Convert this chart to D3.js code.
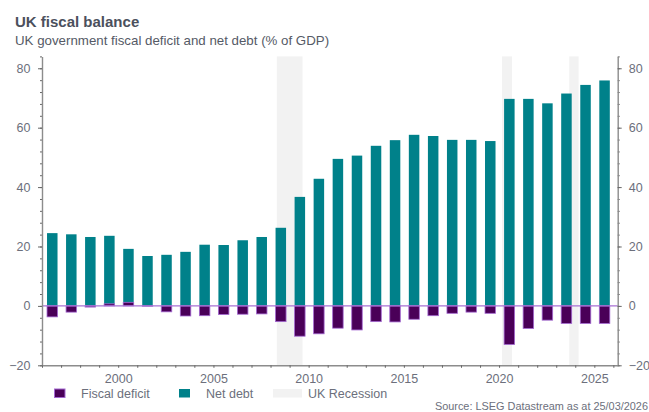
<!DOCTYPE html>
<html>
<head>
<meta charset="utf-8">
<script src="https://cdn.jsdelivr.net/npm/d3@7"></script>
<style>
  html, body { margin: 0; padding: 0; background: #fff; }
  svg { display: block; font-family: "Liberation Sans", Arial, sans-serif; }
</style>
</head>
<body>
<svg id="chart" width="649" height="412"></svg>
<script>
// Financial years (bars centred mid-year)
const years = [1996, 1997, 1998, 1999, 2000, 2001, 2002, 2003, 2004, 2005,
               2006, 2007, 2008, 2009, 2010, 2011, 2012, 2013, 2014, 2015,
               2016, 2017, 2018, 2019, 2020, 2021, 2022, 2023, 2024, 2025];

// Public sector net debt, % of GDP
const netDebt = [24.5, 24.1, 23.2, 23.6, 19.2, 16.8, 17.2, 18.2, 20.6, 20.5,
                 22.1, 23.2, 26.3, 36.7, 42.8, 49.5, 50.6, 53.9, 55.8, 57.6,
                 57.2, 55.9, 55.9, 55.5, 69.7, 69.7, 68.2, 71.5, 74.4, 75.9];

// Fiscal balance (deficit negative), % of GDP
const fiscalDeficit = [-3.7, -2.1, -0.4, 0.7, 1.2, -0.1, -2.0, -3.4, -3.3, -2.9,
                       -2.8, -2.7, -5.3, -10.2, -9.4, -7.5, -8.1, -5.3, -5.4, -4.5,
                       -3.3, -2.5, -2.1, -2.5, -13.0, -7.6, -4.8, -5.9, -5.9, -5.9];

// UK recession periods
const recessionStart = ["2008-05-01", "2020-02-25", "2023-09-08"];
const recessionEnd   = ["2009-09-05", "2020-09-05", "2024-03-05"];

// Axis ticks
const yTicks = [-20, 0, 20, 40, 60, 80];
const xTickYears = [2000, 2005, 2010, 2015, 2020, 2025];

const legendLabels = ["Fiscal deficit", "Net debt", "UK Recession"];

const parse = d3.timeParse("%Y-%m-%d");
const svg = d3.select("#chart");

const plot = { left: 42, right: 617.7, top: 56.4, bottom: 365.3 };

const x = d3.scaleTime()
  .domain([parse("1996-01-01"), parse("2026-03-25")])
  .range([plot.left, plot.right]);

const y = d3.scaleLinear()
  .domain([-20, 84])
  .range([plot.bottom, plot.top]);

const barCentre = yr => x(parse(yr + "-07-16"));
const barW = 10.5;

const colDebt = "#00818a";
const colDef = "#4a0058";
const colDefStroke = "#a468d2";
const colRec = "#f2f2f2";
const textCol = "#6c6f7c";

// Title & subtitle
svg.append("text").attr("x", 15).attr("y", 26.5)
  .attr("font-size", 15).attr("font-weight", "bold").attr("fill", "#4b505d")
  .text("UK fiscal balance");
svg.append("text").attr("x", 15).attr("y", 45)
  .attr("font-size", 13.3).attr("fill", "#555a66")
  .text("UK government fiscal deficit and net debt (% of GDP)");

// Recession shading
svg.append("g").selectAll("rect")
  .data(recessionStart.map((s, i) => [parse(s), parse(recessionEnd[i])]))
  .join("rect")
  .attr("x", d => x(d[0]))
  .attr("width", d => x(d[1]) - x(d[0]))
  .attr("y", plot.top)
  .attr("height", plot.bottom - plot.top)
  .attr("fill", colRec);

// Net debt bars
svg.append("g").selectAll("rect")
  .data(years.map((yr, i) => ({ yr, v: netDebt[i] })))
  .join("rect")
  .attr("x", d => barCentre(d.yr) - barW / 2)
  .attr("width", barW)
  .attr("y", d => y(Math.max(0, d.v)))
  .attr("height", d => Math.abs(y(d.v) - y(0)))
  .attr("fill", colDebt);

// Fiscal deficit bars
svg.append("g").selectAll("rect")
  .data(years.map((yr, i) => ({ yr, v: fiscalDeficit[i] })))
  .join("rect")
  .attr("x", d => barCentre(d.yr) - barW / 2)
  .attr("width", barW)
  .attr("y", d => y(Math.max(0, d.v)))
  .attr("height", d => Math.abs(y(d.v) - y(0)))
  .attr("fill", colDef)
  .attr("stroke", colDefStroke)
  .attr("stroke-width", 0.8);

// Zero line
svg.append("line")
  .attr("x1", plot.left).attr("x2", plot.right)
  .attr("y1", y(0)).attr("y2", y(0))
  .attr("stroke", "#a870d4").attr("stroke-width", 1.3);

// Axes
const axisCol = "#8c8c8c";
function styleAxis(g) {
  g.select(".domain").attr("stroke", axisCol).attr("stroke-width", 1.4);
  g.selectAll(".tick line").attr("stroke", "#666");
  g.selectAll(".tick text").attr("fill", textCol).attr("font-size", 12.5)
    .attr("font-family", "Liberation Sans, Arial, sans-serif");
}

const minorY = d3.range(-20, 85, 4);

// Left axis: minor then major
svg.append("g").attr("transform", `translate(${plot.left},0)`)
  .call(d3.axisLeft(y).tickValues(minorY).tickSize(2).tickFormat(""))
  .call(g => { g.select(".domain").remove(); g.selectAll(".tick line").attr("stroke", "#666"); });
svg.append("g").attr("transform", `translate(${plot.left},0)`)
  .call(d3.axisLeft(y).tickValues(yTicks).tickSize(4).tickSizeOuter(0).tickPadding(7.5))
  .call(styleAxis);

// Right axis
svg.append("g").attr("transform", `translate(${plot.right},0)`)
  .call(d3.axisRight(y).tickValues(minorY).tickSize(2).tickFormat(""))
  .call(g => { g.select(".domain").remove(); g.selectAll(".tick line").attr("stroke", "#666"); });
svg.append("g").attr("transform", `translate(${plot.right},0)`)
  .call(d3.axisRight(y).tickValues(yTicks).tickSize(4).tickSizeOuter(0).tickPadding(7))
  .call(styleAxis);

// Bottom axis: yearly ticks, labels every five years
const yearTicks = d3.range(1996, 2027).map(yr => parse(yr + "-01-01"));
svg.append("g").attr("transform", `translate(0,${plot.bottom})`)
  .call(d3.axisBottom(x).tickValues(yearTicks).tickSize(2.5).tickSizeOuter(0)
    .tickFormat(d => xTickYears.includes(d.getFullYear()) ? d3.timeFormat("%Y")(d) : "")
    .tickPadding(6))
  .call(styleAxis);

// Legend
const legend = svg.append("g");
const lgY = 389;
legend.append("rect").attr("x", 54.5).attr("y", lgY).attr("width", 10.5).attr("height", 8.5)
  .attr("fill", colDef).attr("stroke", colDefStroke).attr("stroke-width", 1);
legend.append("rect").attr("x", 179).attr("y", lgY).attr("width", 11).attr("height", 8.5)
  .attr("fill", colDebt);
legend.append("rect").attr("x", 273).attr("y", lgY).attr("width", 29).attr("height", 8.5)
  .attr("fill", colRec);
const lgX = [81, 206, 308];
legend.selectAll("text").data(legendLabels).join("text")
  .attr("x", (d, i) => lgX[i]).attr("y", 397.5)
  .attr("font-size", 12.5).attr("fill", textCol)
  .text(d => d);

// Source note
svg.append("text").attr("x", 648).attr("y", 409.5)
  .attr("text-anchor", "end").attr("font-size", 10.9).attr("fill", textCol)
  .text("Source: LSEG Datastream as at 25/03/2026");
</script>
</body>
</html>
